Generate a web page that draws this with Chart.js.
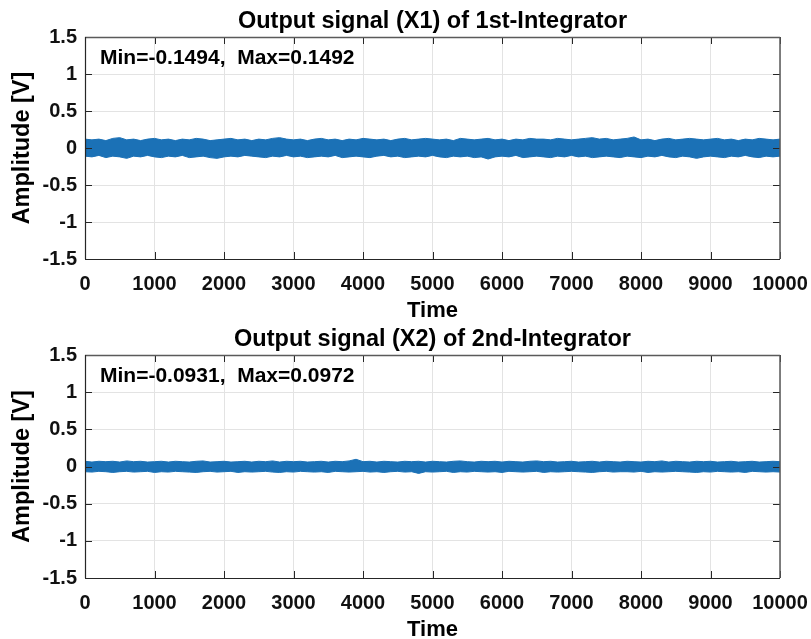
<!DOCTYPE html>
<html>
<head>
<meta charset="utf-8">
<title>Integrator outputs</title>
<script src="https://cdn.jsdelivr.net/npm/chart.js@4.4.1/dist/chart.umd.min.js"></script>
<style>
body { margin: 0; background: #fff; }
.panel { position: absolute; left: 0; width: 811px; }
</style>
</head>
<body>
<div class="panel" style="top:0;height:320px"><canvas id="x1Chart" width="811" height="320"></canvas></div>
<div class="panel" style="top:320px;height:319px"><canvas id="x2Chart" width="811" height="319"></canvas></div>
<script>
// sample times (every 100 steps) and the band edges
const times = [0,100,200,300,400,500,600,700,800,900,
  1000,1100,1200,1300,1400,1500,1600,1700,1800,1900,
  2000,2100,2200,2300,2400,2500,2600,2700,2800,2900,
  3000,3100,3200,3300,3400,3500,3600,3700,3800,3900,
  4000,4100,4200,4300,4400,4500,4600,4700,4800,4900,
  5000,5100,5200,5300,5400,5500,5600,5700,5800,5900,
  6000,6100,6200,6300,6400,6500,6600,6700,6800,6900,
  7000,7100,7200,7300,7400,7500,7600,7700,7800,7900,
  8000,8100,8200,8300,8400,8500,8600,8700,8800,8900,
  9000,9100,9200,9300,9400,9500,9600,9700,9800,9900,10000];

const x1Upper = [0.12,0.11,0.12,0.10,0.13,0.14,0.11,0.12,0.10,0.12,
  0.13,0.11,0.12,0.10,0.12,0.11,0.13,0.12,0.10,0.11,
  0.12,0.13,0.11,0.12,0.10,0.12,0.11,0.13,0.14,0.12,
  0.11,0.12,0.10,0.12,0.13,0.11,0.12,0.10,0.12,0.11,
  0.13,0.12,0.11,0.12,0.10,0.12,0.13,0.11,0.12,0.13,
  0.12,0.11,0.12,0.10,0.13,0.12,0.11,0.12,0.13,0.11,
  0.12,0.10,0.12,0.11,0.13,0.12,0.12,0.11,0.13,0.12,
  0.11,0.12,0.13,0.14,0.12,0.13,0.11,0.12,0.13,0.149,
  0.11,0.12,0.10,0.12,0.13,0.11,0.12,0.13,0.12,0.11,
  0.12,0.13,0.11,0.12,0.10,0.12,0.11,0.13,0.12,0.11,0.12];

const x1Lower = [-0.11,-0.12,-0.10,-0.13,-0.11,-0.12,-0.14,-0.11,-0.12,-0.10,
  -0.12,-0.13,-0.11,-0.12,-0.10,-0.13,-0.12,-0.11,-0.13,-0.14,
  -0.12,-0.11,-0.12,-0.10,-0.11,-0.12,-0.13,-0.11,-0.12,-0.10,
  -0.12,-0.11,-0.13,-0.12,-0.11,-0.12,-0.10,-0.13,-0.12,-0.11,
  -0.12,-0.13,-0.11,-0.10,-0.12,-0.11,-0.13,-0.12,-0.11,-0.12,
  -0.10,-0.12,-0.13,-0.11,-0.12,-0.11,-0.13,-0.12,-0.149,-0.12,
  -0.11,-0.12,-0.10,-0.13,-0.12,-0.11,-0.12,-0.13,-0.11,-0.12,
  -0.10,-0.12,-0.11,-0.13,-0.12,-0.11,-0.12,-0.13,-0.11,-0.12,
  -0.13,-0.11,-0.12,-0.10,-0.12,-0.13,-0.11,-0.12,-0.14,-0.12,
  -0.11,-0.12,-0.13,-0.11,-0.12,-0.10,-0.12,-0.13,-0.11,-0.12,-0.11];

const x2Upper = [0.07,0.06,0.07,0.065,0.07,0.06,0.075,0.065,0.07,0.06,
  0.065,0.07,0.06,0.07,0.065,0.06,0.07,0.075,0.06,0.065,
  0.07,0.06,0.065,0.07,0.06,0.07,0.065,0.075,0.06,0.07,
  0.065,0.07,0.06,0.065,0.07,0.06,0.07,0.065,0.075,0.097,
  0.065,0.07,0.06,0.07,0.065,0.06,0.07,0.065,0.07,0.06,
  0.07,0.065,0.06,0.07,0.075,0.065,0.06,0.07,0.065,0.07,
  0.06,0.07,0.065,0.06,0.07,0.075,0.065,0.07,0.06,0.065,
  0.07,0.06,0.065,0.07,0.06,0.07,0.065,0.06,0.07,0.065,
  0.06,0.07,0.065,0.075,0.06,0.07,0.065,0.06,0.07,0.065,
  0.07,0.06,0.065,0.07,0.06,0.065,0.07,0.06,0.065,0.07,0.065];

const x2Lower = [-0.07,-0.075,-0.065,-0.07,-0.08,-0.07,-0.065,-0.075,-0.07,-0.065,
  -0.08,-0.07,-0.075,-0.065,-0.07,-0.075,-0.08,-0.07,-0.065,-0.075,
  -0.07,-0.065,-0.08,-0.07,-0.075,-0.07,-0.065,-0.075,-0.08,-0.07,
  -0.075,-0.065,-0.07,-0.075,-0.07,-0.08,-0.065,-0.07,-0.075,-0.07,
  -0.065,-0.075,-0.07,-0.08,-0.07,-0.065,-0.075,-0.07,-0.093,-0.07,
  -0.075,-0.07,-0.065,-0.08,-0.07,-0.075,-0.065,-0.07,-0.075,-0.07,
  -0.08,-0.065,-0.07,-0.075,-0.07,-0.065,-0.08,-0.07,-0.075,-0.07,
  -0.065,-0.07,-0.075,-0.08,-0.07,-0.065,-0.075,-0.07,-0.07,-0.075,
  -0.065,-0.08,-0.07,-0.075,-0.07,-0.065,-0.07,-0.075,-0.08,-0.07,
  -0.075,-0.065,-0.07,-0.075,-0.07,-0.08,-0.065,-0.07,-0.075,-0.07,-0.075];

const x1Title = 'Output signal (X1) of 1st-Integrator';
const x2Title = 'Output signal (X2) of 2nd-Integrator';
const x1Note = 'Min=-0.1494,  Max=0.1492';
const x2Note = 'Min=-0.0931,  Max=0.0972';

const lineColor = '#1b71b6';
const fontFamily = '"Liberation Sans", Arial, sans-serif';

// matlab look: inward ticks, box, title, note and axis labels
const matlabBox = {
  id: 'matlabBox',
  afterDraw(chart, args, opts) {
    const { ctx, chartArea: a, scales: { x, y } } = chart;
    ctx.save();
    ctx.strokeStyle = '#262626';
    ctx.lineWidth = 1;
    ctx.beginPath();
    x.ticks.forEach(t => {
      const px = Math.round(x.getPixelForValue(t.value)) + 0.5;
      ctx.moveTo(px, a.bottom); ctx.lineTo(px, a.bottom - 7);
      ctx.moveTo(px, a.top); ctx.lineTo(px, a.top + 7);
    });
    y.ticks.forEach(t => {
      const py = Math.round(y.getPixelForValue(t.value)) + 0.5;
      ctx.moveTo(a.left, py); ctx.lineTo(a.left + 7, py);
      ctx.moveTo(a.right, py); ctx.lineTo(a.right - 7, py);
    });
    ctx.stroke();

    ctx.beginPath();
    ctx.strokeStyle = '#5a5a5a';
    ctx.lineWidth = 1.5;
    ctx.moveTo(a.left, a.top + 0.5); ctx.lineTo(a.right, a.top + 0.5);
    ctx.moveTo(a.right, a.top); ctx.lineTo(a.right, a.bottom);
    ctx.stroke();
    ctx.beginPath();
    ctx.strokeStyle = '#262626';
    ctx.lineWidth = 1.2;
    ctx.moveTo(a.left + 0.5, a.top); ctx.lineTo(a.left + 0.5, a.bottom);
    ctx.moveTo(a.left, a.bottom + 0.5); ctx.lineTo(a.right, a.bottom + 0.5);
    ctx.stroke();

    const cx = (a.left + a.right) / 2;
    ctx.fillStyle = '#000';
    ctx.textBaseline = 'alphabetic';
    ctx.textAlign = 'center';
    ctx.font = 'bold 23.5px ' + fontFamily;
    ctx.fillText(opts.title, cx, a.top - 9);
    ctx.font = 'bold 22px ' + fontFamily;
    ctx.fillText('Time', cx, chart.height - 3);

    ctx.textAlign = 'left';
    ctx.font = 'bold 21px ' + fontFamily;
    ctx.fillText(opts.note, a.left + 15, a.top + 27);

    ctx.save();
    ctx.translate(29, (a.top + a.bottom) / 2);
    ctx.rotate(-Math.PI / 2);
    ctx.textAlign = 'center';
    ctx.font = 'bold 23.5px ' + fontFamily;
    ctx.fillText('Amplitude [V]', 0, 0);
    ctx.restore();
    ctx.restore();
  }
};

function makeChart(id, upper, lower, title, note, topPad) {
  const ctx = document.getElementById(id).getContext('2d');
  const tickFont = { family: fontFamily, size: 20, weight: 'bold' };
  return new Chart(ctx, {
    type: 'line',
    data: {
      datasets: [{
        data: upper.map((v, i) => ({ x: times[i], y: v })),
        borderColor: lineColor,
        backgroundColor: lineColor,
        borderWidth: 1,
        pointRadius: 0,
        fill: '+1'
      }, {
        data: lower.map((v, i) => ({ x: times[i], y: v })),
        borderColor: lineColor,
        backgroundColor: lineColor,
        borderWidth: 1,
        pointRadius: 0,
        fill: false
      }]
    },
    options: {
      responsive: false,
      animation: false,
      layout: { padding: { left: 0, right: 31, top: topPad, bottom: 0 } },
      plugins: {
        legend: { display: false },
        tooltip: { enabled: false },
        matlabBox: { title: title, note: note }
      },
      scales: {
        x: {
          type: 'linear',
          min: 0,
          max: 10000,
          afterFit: s => { s.height = 61; s.paddingLeft = 0; s.paddingRight = 0; },
          grid: { color: '#e3e3e3', drawTicks: false },
          border: { display: false },
          ticks: {
            stepSize: 1000,
            autoSkip: false,
            maxRotation: 0,
            padding: 13,
            color: '#111',
            font: tickFont,
            callback: v => String(v)
          }
        },
        y: {
          min: -1.5,
          max: 1.5,
          afterFit: s => { s.width = 85; s.paddingTop = 0; s.paddingBottom = 0; },
          grid: { color: '#e3e3e3', drawTicks: false },
          border: { display: false },
          ticks: {
            stepSize: 0.5,
            padding: 8,
            color: '#111',
            font: tickFont,
            callback: v => String(v)
          }
        }
      }
    },
    plugins: [matlabBox]
  });
}

makeChart('x1Chart', x1Upper, x1Lower, x1Title, x1Note, 37);
makeChart('x2Chart', x2Upper, x2Lower, x2Title, x2Note, 35);
</script>
</body>
</html>
